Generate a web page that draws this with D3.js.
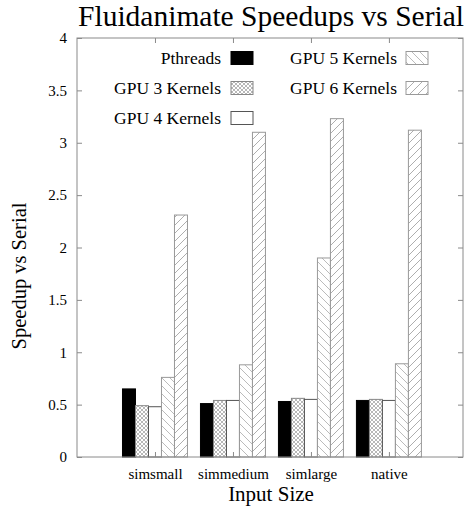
<!DOCTYPE html>
<html>
<head>
<meta charset="utf-8">
<script src="https://cdn.jsdelivr.net/npm/d3@7"></script>
<style>
  html, body { margin: 0; padding: 0; background: #fff; }
  svg, svg text { font-family: "Liberation Serif", "Times New Roman", serif !important; }
  svg { display: block; }
</style>
</head>
<body>
<svg id="chart" width="467" height="508"></svg>
<script>
// Input sizes and speedups over the serial version, per implementation
const categories = ["simsmall", "simmedium", "simlarge", "native"];
const seriesNames = ["Pthreads", "GPU 3 Kernels", "GPU 4 Kernels", "GPU 5 Kernels", "GPU 6 Kernels"];
const pthreads = [0.65, 0.51, 0.53, 0.54];
const gpu3 = [0.49, 0.54, 0.56, 0.55];
const gpu4 = [0.48, 0.54, 0.55, 0.54];
const gpu5 = [0.76, 0.88, 1.90, 0.89];
const gpu6 = [2.31, 3.10, 3.23, 3.12];
const yTicks = [0, 0.5, 1, 1.5, 2, 2.5, 3, 3.5, 4];
const yTickLabels = ["0", "0.5", "1", "1.5", "2", "2.5", "3", "3.5", "4"];

const seriesValues = [pthreads, gpu3, gpu4, gpu5, gpu6];
const fills = ["#000", "url(#pat-cross)", "#fff", "url(#pat-back)", "url(#pat-fwd)"];
const strokes = ["#000", "#888", "#555", "#999", "#999"];

const svg = d3.select("#chart");
const x = d3.scaleLinear().domain([-1, 3.95]).range([77, 463]);
const y = d3.scaleLinear().domain([0, 4]).range([457, 38]);

// fill patterns
const defs = svg.append("defs");
const cross = defs.append("pattern").attr("id", "pat-cross")
  .attr("patternUnits", "userSpaceOnUse").attr("width", 4).attr("height", 4);
cross.append("rect").attr("width", 4).attr("height", 4).attr("fill", "#fff");
cross.append("path").attr("d", "M0,0L4,4M4,0L0,4").attr("stroke", "#999").attr("stroke-width", 0.7);
const back = defs.append("pattern").attr("id", "pat-back")
  .attr("patternUnits", "userSpaceOnUse").attr("width", 8).attr("height", 8);
back.append("rect").attr("width", 8).attr("height", 8).attr("fill", "#fff");
back.append("path").attr("d", "M-2,-2L10,10M-2,6L2,10M6,-2L10,2").attr("stroke", "#aaa").attr("stroke-width", 0.8);
const fwd = defs.append("pattern").attr("id", "pat-fwd")
  .attr("patternUnits", "userSpaceOnUse").attr("width", 8).attr("height", 8);
fwd.append("rect").attr("width", 8).attr("height", 8).attr("fill", "#fff");
fwd.append("path").attr("d", "M-2,10L10,-2M-2,2L2,-2M6,10L10,6").attr("stroke", "#999").attr("stroke-width", 0.8);

// bars: 5 per group, one empty slot as gap
const slot = 1 / 6;
seriesValues.forEach((vals, j) => {
  svg.append("g").selectAll("rect").data(vals).join("rect")
    .attr("x", (d, i) => x(i + (j - 2.5) * slot))
    .attr("width", (d, i) => x(i + (j - 1.5) * slot) - x(i + (j - 2.5) * slot))
    .attr("y", d => y(d))
    .attr("height", d => y(0) - y(d))
    .attr("fill", fills[j])
    .attr("stroke", strokes[j])
    .attr("stroke-width", 1);
});

// frame
svg.append("rect")
  .attr("x", x(-1)).attr("y", y(4))
  .attr("width", x(3.95) - x(-1)).attr("height", y(0) - y(4))
  .attr("fill", "none").attr("stroke", "#8a8a8a").attr("stroke-width", 1);

// y axis with inward ticks, mirrored on the right
const yAxis = svg.append("g").attr("transform", `translate(${x(-1)},0)`)
  .call(d3.axisLeft(y).tickValues(yTicks).tickFormat((d, i) => yTickLabels[i])
    .tickSizeInner(-5).tickSizeOuter(0).tickPadding(10));
yAxis.attr("font-family", null);
yAxis.select(".domain").remove();
yAxis.selectAll("line").attr("stroke", "#8a8a8a");
yAxis.selectAll("text").attr("font-size", 15).attr("fill", "#000");
const yRight = svg.append("g").attr("transform", `translate(${x(3.95)},0)`)
  .call(d3.axisRight(y).tickValues(yTicks).tickFormat("").tickSizeInner(-5).tickSizeOuter(0));
yRight.select(".domain").remove();
yRight.selectAll("line").attr("stroke", "#8a8a8a");

// x axis labels and mirrored ticks on top
const xAxis = svg.append("g").attr("transform", `translate(0,${y(0)})`)
  .call(d3.axisBottom(x).tickValues(d3.range(categories.length)).tickFormat((d) => categories[d])
    .tickSizeInner(-5).tickSizeOuter(0).tickPadding(11));
xAxis.attr("font-family", null);
xAxis.select(".domain").remove();
xAxis.selectAll("line").attr("stroke", "#8a8a8a");
xAxis.selectAll("text").attr("font-size", 15).attr("fill", "#000");
const xTop = svg.append("g").attr("transform", `translate(0,${y(4)})`)
  .call(d3.axisTop(x).tickValues(d3.range(categories.length)).tickFormat("").tickSizeInner(-5).tickSizeOuter(0));
xTop.select(".domain").remove();
xTop.selectAll("line").attr("stroke", "#8a8a8a");

// titles
svg.append("text").attr("x", 271).attr("y", 26).attr("text-anchor", "middle")
  .attr("font-size", 29.5).text("Fluidanimate Speedups vs Serial");
svg.append("text").attr("x", 271).attr("y", 501).attr("text-anchor", "middle")
  .attr("font-size", 21).text("Input Size");
svg.append("text").attr("transform", `translate(26,276) rotate(-90)`)
  .attr("text-anchor", "middle").attr("font-size", 20.5).text("Speedup vs Serial");

// legend: two columns, text right-aligned against swatch
const legendPos = [
  { tx: 221, sx: 231, cy: 58 },
  { tx: 221, sx: 231, cy: 88 },
  { tx: 221, sx: 231, cy: 118 },
  { tx: 397, sx: 406, cy: 58 },
  { tx: 397, sx: 406, cy: 88 }
];
const legend = svg.append("g");
seriesNames.forEach((name, j) => {
  const p = legendPos[j];
  legend.append("text").attr("x", p.tx).attr("y", p.cy + 6).attr("text-anchor", "end")
    .attr("font-size", 17.5).text(name);
  legend.append("rect").attr("x", p.sx).attr("y", p.cy - 6.5).attr("width", 22).attr("height", 13)
    .attr("fill", fills[j]).attr("stroke", strokes[j]).attr("stroke-width", 1);
});
</script>
</body>
</html>
